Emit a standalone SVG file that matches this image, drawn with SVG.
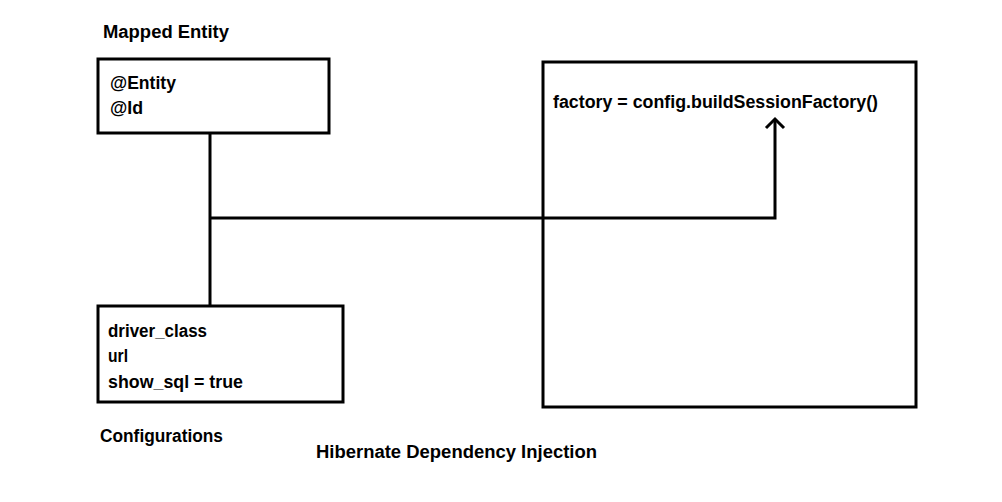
<svg xmlns="http://www.w3.org/2000/svg" width="1002" height="502" viewBox="0 0 1002 502">
<style>
.box{fill:#fff;stroke:#000;stroke-width:3}
.t{font-family:"Liberation Sans",Arial,sans-serif;font-weight:bold;font-size:18px;fill:#000}
.ln{fill:none;stroke:#000;stroke-width:3}
</style>
<rect width="1002" height="502" fill="#fff"/>
<g id="connectors">
<path class="ln" d="M210,134 V306 M210,218 H775 V120"/>
<path class="ln" d="M766,128 L775,119 L784,128"/>
</g>
<g id="mapped-entity">
<text class="t" x="103" y="38" textLength="126" lengthAdjust="spacingAndGlyphs">Mapped Entity</text>
<rect class="box" x="98" y="59" width="231" height="74"/>
<text class="t" x="110" y="89" textLength="66" lengthAdjust="spacingAndGlyphs">@Entity</text>
<text class="t" x="110" y="114" textLength="33" lengthAdjust="spacingAndGlyphs">@Id</text>
</g>
<g id="configurations">
<rect class="box" x="98" y="306" width="245" height="96"/>
<text class="t" x="108" y="337" textLength="99" lengthAdjust="spacingAndGlyphs">driver_class</text>
<text class="t" x="108" y="362" textLength="20" lengthAdjust="spacingAndGlyphs">url</text>
<text class="t" x="108" y="388" textLength="135" lengthAdjust="spacingAndGlyphs">show_sql = true</text>
<text class="t" x="100" y="442" textLength="123" lengthAdjust="spacingAndGlyphs">Configurations</text>
</g>
<g id="session-factory">
<rect class="box" x="543" y="62" width="373" height="345" fill="none" style="fill:none"/>
<text class="t" x="553" y="108" textLength="325" lengthAdjust="spacingAndGlyphs">factory = config.buildSessionFactory()</text>
</g>
<g id="title">
<text class="t" x="316" y="458" textLength="281" lengthAdjust="spacingAndGlyphs">Hibernate Dependency Injection</text>
</g>
</svg>
